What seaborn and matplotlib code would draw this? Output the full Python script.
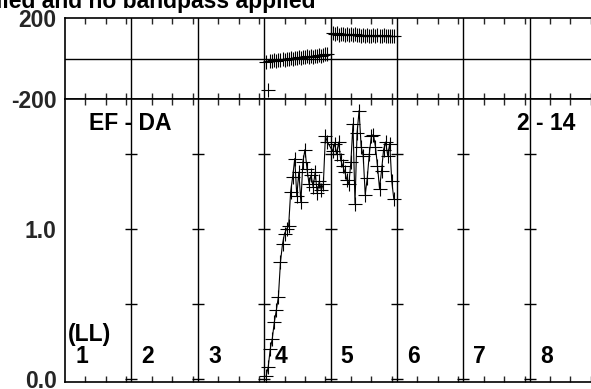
"""POSSM-style spectrum: phase (top) and amplitude (bottom) across 8 IFs, baseline EF - DA."""

import matplotlib
matplotlib.use("Agg")
import matplotlib.pyplot as plt
import pandas as pd
import seaborn as sns

# --- data ---
if_labels = ["1", "2", "3", "4", "5", "6", "7", "8"]
IF_WIDTH = 65  # channel units per IF strip
channels = [2, 4, 6, 8, 10, 12, 14, 16, 18, 20, 22, 24, 26, 28, 30, 32,
            34, 36, 38, 40, 42, 44, 46, 48, 50, 52, 54, 56, 58, 60, 62]

if4_amp = [0.02, 0.08, 0.20, 0.27, 0.38, 0.46, 0.55, 0.78, 0.90, 0.97, 1.00,
           1.02, 1.25, 1.35, 1.47, 1.22, 1.38, 1.18, 1.45, 1.53, 1.40, 1.30,
           1.36, 1.28, 1.38, 1.24, 1.32, 1.26, 1.30, 1.62, 1.58]
if5_amp = [1.52, 1.57, 1.50, 1.58, 1.46, 1.42, 1.38, 1.33, 1.30, 1.45, 1.70,
           1.17, 1.64, 1.79, 1.55, 1.49, 1.23, 1.34, 1.50, 1.62, 1.63, 1.55,
           1.42, 1.27, 1.39, 1.53, 1.58, 1.49, 1.57, 1.32, 1.20]

if4_phase = [-16, -155, -12, -14, -8, -10, -6, -9, -3, -5, -1, -4, 2, 0, 4, 1,
             6, 3, 8, 5, 10, 7, 12, 9, 14, 11, 16, 13, 18, 20, 23]
if5_phase = [124, 120, 125, 118, 122, 119, 116, 121, 117, 120, 114, 119, 115,
             118, 113, 117, 112, 116, 113, 111, 115, 110, 114, 112, 110, 114,
             109, 113, 111, 110, 112]

baseline_label = "EF - DA"
time_label = "2 - 14"
stokes_label = "(LL)"
title = "Calibration applied and no bandpass applied"

amp_ticks = [0.0, 0.5, 1.0, 1.5]
amp_ticklabels = ["0.0", "", "1.0", ""]
phase_ticks = [-200, 200]
phase_ticklabels = ["-200", "200"]

rows = []
for if_no, amp, ph in [(4, if4_amp, if4_phase), (5, if5_amp, if5_phase)]:
    for ch, a, p in zip(channels, amp, ph):
        rows.append({"x": (if_no - 1) * IF_WIDTH + ch, "amp": a, "phase": p})
df = pd.DataFrame(rows)

# --- figure ---
sns.set_style("white")
plt.rcParams["font.family"] = ["Liberation Sans", "DejaVu Sans"]
plt.rcParams["font.weight"] = "bold"
FS = 16.5

W, H = 591, 389
fig = plt.figure(figsize=(W / 100, H / 100), dpi=100)


def box(l, t, r, b):
    return [l / W, 1 - b / H, (r - l) / W, (b - t) / H]


ax_ph = fig.add_axes(box(65, 18, 596, 99))
ax_am = fig.add_axes(box(65, 99, 596, 382))

n_if = len(if_labels)
seps = [k * IF_WIDTH for k in range(1, n_if)]
xticks = [k * IF_WIDTH + o for k in range(n_if) for o in (20, 40, 60)]

# phase
sns.scatterplot(data=df, x="x", y="phase", marker="+", s=110, color="black",
                linewidth=0.8, ax=ax_ph, legend=False, zorder=3)
ax_ph.axhline(0, color="black", lw=1.0)
ax_ph.set_ylim(-200, 200)
ax_ph.set_yticks(phase_ticks)
ax_ph.set_yticklabels(phase_ticklabels)

# amplitude
sns.lineplot(data=df, x="x", y="amp", color="black", lw=0.8, marker="+",
             markersize=10, markeredgewidth=0.8, markeredgecolor="black",
             estimator=None, sort=False, ax=ax_am, zorder=3)
ax_am.set_ylim(-0.02, 1.867)
ax_am.set_yticks(amp_ticks)
ax_am.set_yticklabels(amp_ticklabels)
# tick crosses on every IF separator
for s in seps:
    ax_am.plot([s] * len(amp_ticks), amp_ticks, ls="none", marker="_",
               ms=9, mew=1.0, color="black", zorder=2)

for ax in (ax_ph, ax_am):
    ax.set_xlim(0, n_if * IF_WIDTH)
    for s in seps:
        ax.axvline(s, color="black", lw=1.0, zorder=1)
    ax.set_xticks(xticks)
    ax.set_xlabel("")
    ax.set_ylabel("")
    ax.tick_params(axis="x", which="both", direction="in", length=4, width=1,
                   top=True, bottom=True, labelbottom=False, labeltop=False)
    ax.tick_params(axis="y", direction="in", length=5, width=1, pad=6,
                   labelsize=FS, right=False)
    for sp in ax.spines.values():
        sp.set_color("black")
        sp.set_linewidth(1.2)
ax_ph.tick_params(axis="y", length=0)

for lab in ax_ph.get_yticklabels() + ax_am.get_yticklabels():
    lab.set_fontweight("bold")

txt = dict(fontsize=FS, fontweight="bold", color="black")
fig.text(89 / W, 1 - 124 / H, baseline_label, va="center", ha="left", **txt)
fig.text(517 / W, 1 - 123 / H, time_label, va="center", ha="left", **txt)
fig.text(68 / W, 1 - 335 / H, stokes_label, va="center", ha="left", **txt)
for k, lab in enumerate(if_labels):
    ax_am.text(k * IF_WIDTH + 10, 0.147, lab, va="center", ha="left", **txt)
fig.text(316 / W, 1 - 8 / H, title, va="baseline", ha="right", **txt)

fig.savefig("out.png", dpi=100)
